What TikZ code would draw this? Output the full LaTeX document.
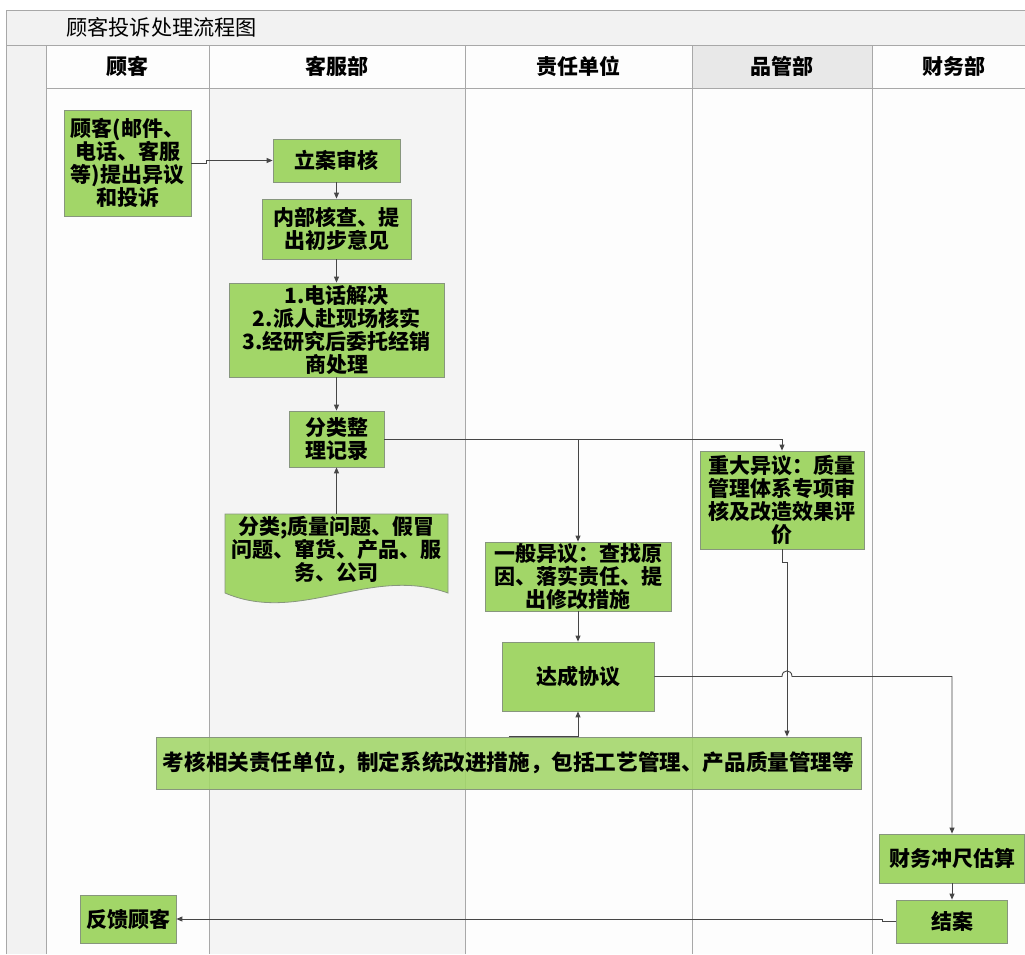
\documentclass[tikz,border=0pt]{standalone}
\usepackage{fontspec}
\setmainfont{Noto Sans CJK SC}
\usetikzlibrary{arrows.meta}
\definecolor{boxgreen}{RGB}{162,214,104}
\definecolor{boxedge}{RGB}{135,150,125}
\definecolor{laneline}{RGB}{168,168,168}
\definecolor{conn}{RGB}{70,70,70}
\definecolor{band}{RGB}{242,242,242}
\definecolor{lanegray}{RGB}{244,244,244}
\definecolor{headgray}{RGB}{232,232,232}
\definecolor{lanewhite}{RGB}{253,253,253}
\begin{document}
\begin{tikzpicture}[x=1pt,y=-1pt,
  box/.style={draw=boxedge, fill=boxgreen, line width=0.8pt, inner sep=0pt, align=center,
    font=\fontsize{21}{23}\selectfont\bfseries, text=black},
  head/.style={inner sep=0pt, font=\fontsize{21}{23}\selectfont\bfseries, text=black},
  flow/.style={draw=conn, line width=0.9pt, -{Triangle[length=6pt,width=5pt]}},
  lane/.style={draw=laneline, line width=0.9pt}]
\useasboundingbox (0,0) rectangle (1025,954);
% background
\fill[white] (0,0) rectangle (1025,954);
\fill[band] (6,10) rectangle (1025,45);
\fill[band] (6,45) rectangle (46,954);
\fill[lanewhite] (46,45) rectangle (1025,954);
\fill[lanegray] (209,88) rectangle (465,954);
\fill[headgray] (692,45) rectangle (872,88);
\draw[lane] (6,954) -- (6,10) -- (1025,10);
\draw[lane] (6,45) -- (1025,45);
\draw[lane] (46,88) -- (1025,88);
\foreach \x in {46,209,465,692,872} \draw[lane] (\x,45) -- (\x,954);
% title and headers
\node[anchor=west, inner sep=0pt, font=\fontsize{21.2}{23}\selectfont, text=black] (title) at (66,27) {顾客投诉处理流程图};
\node[head] (h1) at (127.5,66.5) {顾客};
\node[head] (h2) at (336.5,66.5) {客服部};
\node[head] (h3) at (578.5,66.5) {责任单位};
\node[head] (h4) at (782,66.5) {品管部};
\node[head] (h5) at (953.5,66.5) {财务部};
% boxes
\node[box, minimum width=127pt, minimum height=106pt] (n1) at (127.5,163) {顾客(邮件、\\电话、客服\\等)提出异议\\和投诉};
\node[box, minimum width=127pt, minimum height=43pt] (n2) at (336.5,160.5) {立案审核};
\node[box, minimum width=149pt, minimum height=60pt] (n3) at (336.5,229) {内部核查、提\\出初步意见};
\node[box, minimum width=215pt, minimum height=94pt] (n4) at (336.5,330) {1.电话解决\\2.派人赴现场核实\\3.经研究后委托经销\\商处理};
\node[box, minimum width=95pt, minimum height=56pt] (n5) at (336.5,439) {分类整\\理记录};
% document shape
\draw[boxedge, fill=boxgreen, line width=0.8pt] (225,514) -- (448,514) -- (448,593)
  .. controls (370,565) and (300,625) .. (225,593) -- cycle;
\coordinate (n6t) at (336.5,514);
\node[align=center, inner sep=0pt, font=\fontsize{21}{23}\selectfont\bfseries] (n6) at (336.5,549) {分类;质量问题、假冒\\问题、窜货、产品、服\\务、公司};
\node[box, minimum width=186pt, minimum height=69pt] (n7) at (578,576.5) {一般异议：查找原\\因、落实责任、提\\出修改措施};
\node[box, minimum width=152pt, minimum height=69pt] (n8) at (578,676.5) {达成协议};
\node[box, minimum width=164pt, minimum height=98pt] (n9) at (782,500) {重大异议：质量\\管理体系专项审\\核及改造效果评\\价};
\node[box, fill opacity=0.88, text opacity=1, minimum width=705pt, minimum height=52pt, font=\fontsize{21.6}{23}\selectfont\bfseries] (n10) at (508.5,763) {考核相关责任单位，制定系统改进措施，包括工艺管理、产品质量管理等};
\node[box, minimum width=145pt, minimum height=49pt] (n11) at (952,858.5) {财务冲尺估算};
\node[box, minimum width=111pt, minimum height=43pt] (n12) at (952,921.5) {结案};
\node[box, minimum width=96pt, minimum height=48pt] (n13) at (128,919) {反馈顾客};
% connectors
\draw[flow] (n1.east) -- ++(15,0) |- (n2.west);
\draw[flow] (n2.south) -- (n3.north);
\draw[flow] (n3.south) -- (n4.north);
\draw[flow] (n4.south) -- (n5.north);
\draw[flow] (n6t) -- (n5.south);
\draw[flow] (n5.east) -| (n9.north);
\draw[flow] (n5.east -| n7.north) -- (n7.north);
\draw[flow] (n7.south) -- (n8.north);
\draw[flow] (n9.south) -- ++(0,13) -| ([xshift=5pt]n9.south |- n10.north);
\draw[flow] (n10.north) -| (n8.south);
\draw[flow] (n8.east) -- (782,676.5) .. controls (782,669) and (792,669) .. (792,676.5) -| (n11.north);
\draw[flow] (n11.south) -- (n12.north);
\draw[flow] (n12.west) -- ++(-14,0) |- (n13.east);
\end{tikzpicture}
\end{document}
